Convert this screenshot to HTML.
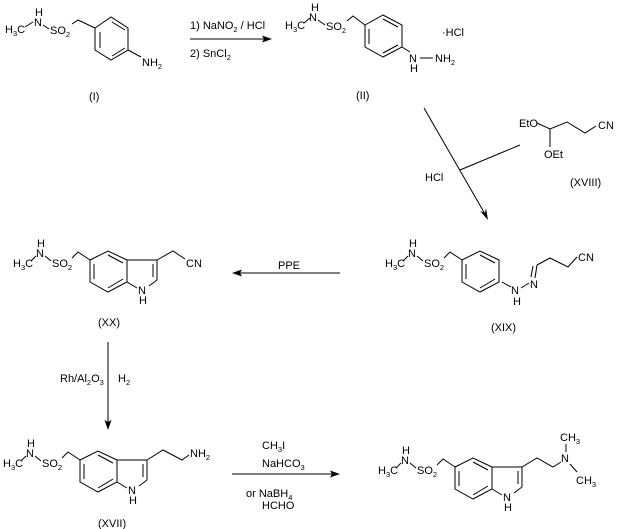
<!DOCTYPE html>
<html><head><meta charset="utf-8"><style>
html,body{margin:0;padding:0;background:#fff;}
svg{display:block;}
text{font-family:"Liberation Sans",Arial,sans-serif;font-size:11px;fill:#000;}
.s{font-size:7.5px;}
line,polyline{stroke:#000;stroke-width:1;fill:none;}
</style></head><body>
<svg width="617" height="529" viewBox="0 0 617 529" xmlns="http://www.w3.org/2000/svg">
<defs>
<g id="head">
  <text x="13" y="267">H<tspan class="s" dy="3">3</tspan><tspan dy="-3">C</tspan></text>
  <line x1="31" y1="261" x2="36" y2="256"/>
  <text x="36" y="257">N</text>
  <text x="37" y="247">H</text>
  <line x1="45" y1="256" x2="51" y2="261"/>
  <text x="52" y="267">SO<tspan class="s" dy="3">2</tspan></text>
  <polyline points="72,258 78,252 90,260"/>
  <polygon points="90,260 108,251 127,260 127,282 108,292 90,282" style="fill:none;stroke:#000;stroke-width:1"/>
  <line x1="94" y1="264" x2="94" y2="279"/>
  <line x1="108" y1="255" x2="123" y2="263"/>
  <line x1="123" y1="279" x2="108" y2="288"/>
</g>
<g id="indole">
  <use href="#head"/>
  <line x1="127" y1="260" x2="157" y2="260"/>
  <line x1="157" y1="260" x2="157" y2="280"/>
  <line x1="153" y1="264" x2="153" y2="277"/>
  <line x1="157" y1="280" x2="149" y2="286"/>
  <line x1="127" y1="282" x2="137" y2="288"/>
  <text x="138" y="294">N</text>
  <text x="139" y="304">H</text>
</g>
</defs>

<!-- Compound I -->
<text x="5" y="33">H<tspan class="s" dy="3">3</tspan><tspan dy="-3">C</tspan></text>
<line x1="25" y1="27" x2="33" y2="22"/>
<text x="34" y="26">N</text>
<text x="35" y="16">H</text>
<line x1="43" y1="25" x2="49" y2="29"/>
<text x="50" y="34">SO<tspan class="s" dy="3">2</tspan></text>
<polyline points="72,24 78,20 95,28"/>
<polygon points="95,28 111,17 128,28 128,50 111,60 95,50" style="fill:none;stroke:#000;stroke-width:1"/>
<line x1="100" y1="32" x2="100" y2="48"/>
<line x1="112" y1="22" x2="125" y2="30"/>
<line x1="125" y1="48" x2="112" y2="56"/>
<line x1="128" y1="50" x2="141" y2="57"/>
<text x="142" y="66">NH<tspan class="s" dy="3">2</tspan></text>
<text x="89" y="100">(I)</text>

<!-- Arrow 1 -->
<line x1="190" y1="39" x2="266" y2="39"/>
<polygon points="272,39 262,35.5 264,39 262,42.5"/>
<text x="190" y="29">1) NaNO<tspan class="s" dy="3">2</tspan><tspan dy="-3"> / HCl</tspan></text>
<text x="190" y="57">2) SnCl<tspan class="s" dy="3">2</tspan></text>

<!-- Compound II -->
<text x="285" y="29">H<tspan class="s" dy="3">3</tspan><tspan dy="-3">C</tspan></text>
<line x1="304" y1="23" x2="310" y2="18"/>
<text x="309" y="21">N</text>
<text x="311" y="11">H</text>
<line x1="318" y1="20" x2="325" y2="25"/>
<text x="326" y="30">SO<tspan class="s" dy="3">2</tspan></text>
<polyline points="347,21 353,16 365,25"/>
<polygon points="365,25 383,15 402,25 402,47 383,57 365,47" style="fill:none;stroke:#000;stroke-width:1"/>
<line x1="369" y1="29" x2="369" y2="44"/>
<line x1="383" y1="19" x2="398" y2="27"/>
<line x1="398" y1="45" x2="383" y2="53"/>
<line x1="402" y1="47" x2="410" y2="52"/>
<text x="409" y="62">N</text>
<text x="410" y="72">H</text>
<line x1="420" y1="58" x2="433" y2="58"/>
<text x="435" y="62">NH<tspan class="s" dy="3">2</tspan></text>
<text x="442" y="36">·HCl</text>
<text x="356" y="99">(II)</text>

<!-- Diagonal arrow -->
<line x1="424" y1="108" x2="485" y2="214"/>
<polygon points="488,220 480,211 485,213 486,208"/>
<line x1="460" y1="170" x2="520" y2="145"/>
<text x="425" y="181">HCl</text>

<!-- XVIII -->
<text x="519" y="127">EtO</text>
<polyline points="537,123 550,129 567,122 585,133 596,126"/>
<line x1="550" y1="129" x2="550" y2="147"/>
<text x="544" y="158">OEt</text>
<text x="598" y="129">CN</text>
<text x="570" y="186">(XVIII)</text>

<!-- XX -->
<use href="#indole"/>
<polyline points="157,260 173,251 185,259"/>
<text x="186" y="267">CN</text>
<text x="98" y="326">(XX)</text>

<!-- PPE arrow -->
<line x1="238" y1="273" x2="340" y2="273"/>
<polygon points="232,273 242,269.5 240,273 242,276.5"/>
<text x="278" y="269">PPE</text>

<!-- XIX -->
<g transform="translate(372,0)"><use href="#head"/></g>
<line x1="502" y1="282" x2="511" y2="287"/>
<text x="511" y="294">N</text>
<text x="513" y="305">H</text>
<line x1="521" y1="288" x2="529" y2="283"/>
<text x="530" y="288">N</text>
<line x1="535" y1="278" x2="537" y2="265"/>
<line x1="531" y1="277" x2="533" y2="266"/>
<polyline points="537,265 550,258 568,267 577,257"/>
<text x="578" y="261">CN</text>
<text x="491" y="331">(XIX)</text>

<!-- vertical arrow -->
<line x1="108" y1="342" x2="108" y2="424"/>
<polygon points="108,430 104.5,420 108,422 111.5,420"/>
<text x="60" y="382">Rh/Al<tspan class="s" dy="3">2</tspan><tspan dy="-3">O</tspan><tspan class="s" dy="3">3</tspan></text>
<text x="118" y="382">H<tspan class="s" dy="3">2</tspan></text>

<!-- XVII -->
<g transform="translate(-10,200)"><use href="#indole"/></g>
<polyline points="147,460 163,450 182,460 189,455"/>
<text x="190" y="457">NH<tspan class="s" dy="3">2</tspan></text>
<text x="98" y="527">(XVII)</text>

<!-- arrow 3 -->
<line x1="232" y1="474" x2="334" y2="474"/>
<polygon points="340,474 330,470.5 332,474 330,477.5"/>
<text x="262" y="449">CH<tspan class="s" dy="3">3</tspan><tspan dy="-3">I</tspan></text>
<text x="262" y="467">NaHCO<tspan class="s" dy="3">3</tspan></text>
<text x="246" y="497">or  NaBH<tspan class="s" dy="3">4</tspan></text>
<text x="262" y="509">HCHO</text>

<!-- product -->
<g transform="translate(365,207)"><use href="#indole"/></g>
<polyline points="522,467 537,458 553,467 561,462"/>
<text x="561" y="462">N</text>
<line x1="566" y1="452" x2="566" y2="444"/>
<text x="560" y="441">CH<tspan class="s" dy="3">3</tspan></text>
<line x1="570" y1="464" x2="577" y2="472"/>
<text x="576" y="484">CH<tspan class="s" dy="3">3</tspan></text>
</svg>
</body></html>
